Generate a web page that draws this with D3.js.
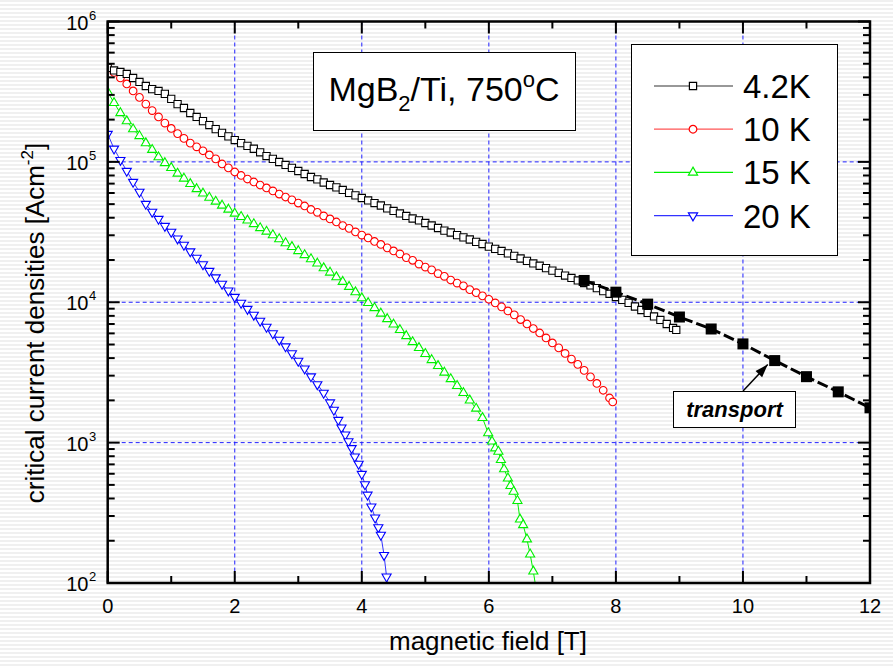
<!DOCTYPE html>
<html>
<head>
<meta charset="utf-8">
<script src="https://cdn.jsdelivr.net/npm/d3@7"></script>
<style>
  body { margin: 0; background: #fff; }
  svg { display: block; font-family: "Liberation Sans", Arial, Helvetica, sans-serif; }
</style>
</head>
<body>
<svg id="chart" width="893" height="666"></svg>
<script>
// Critical current density Jc [A/cm^2] versus applied field B [T], MgB2/Ti wire annealed at 750 °C
// Each series: [field (T), Jc (A/cm^2)]
const jc42K = [[0.0,4.67e5],[0.1,4.48e5],[0.2,4.37e5],[0.3,4.23e5],[0.4,3.96e5],[0.5,3.71e5],[0.6,3.47e5],[0.7,3.30e5],[0.8,3.20e5],[0.9,3.05e5],
  [1.0,2.81e5],[1.1,2.58e5],[1.2,2.42e5],[1.3,2.23e5],[1.4,2.09e5],[1.5,1.95e5],[1.6,1.83e5],[1.7,1.71e5],[1.8,1.61e5],[1.9,1.52e5],
  [2.0,1.43e5],[2.1,1.36e5],[2.2,1.30e5],[2.3,1.24e5],[2.4,1.17e5],[2.5,1.10e5],[2.6,1.05e5],[2.7,9.98e4],[2.8,9.51e4],[2.9,9.06e4],
  [3.0,8.61e4],[3.1,8.20e4],[3.2,7.80e4],[3.3,7.50e4],[3.4,7.13e4],[3.5,6.84e4],[3.6,6.58e4],[3.7,6.31e4],[3.8,6.01e4],[3.9,5.77e4],
  [4.0,5.53e4],[4.1,5.31e4],[4.2,5.09e4],[4.3,4.89e4],[4.4,4.66e4],[4.5,4.47e4],[4.6,4.29e4],[4.7,4.12e4],[4.8,3.95e4],[4.9,3.83e4],
  [5.0,3.67e4],[5.1,3.52e4],[5.2,3.38e4],[5.3,3.24e4],[5.4,3.14e4],[5.5,3.01e4],[5.6,2.90e4],[5.7,2.80e4],[5.8,2.69e4],[5.9,2.60e4],
  [6.0,2.49e4],[6.1,2.40e4],[6.2,2.32e4],[6.3,2.23e4],[6.4,2.14e4],[6.5,2.05e4],[6.6,1.97e4],[6.7,1.89e4],[6.8,1.82e4],[6.9,1.75e4],
  [7.0,1.68e4],[7.1,1.62e4],[7.2,1.55e4],[7.3,1.49e4],[7.4,1.43e4],[7.5,1.37e4],[7.6,1.32e4],[7.7,1.26e4],[7.8,1.20e4],[7.9,1.15e4],
  [8.0,1.09e4],[8.1,1.04e4],[8.2,9.89e3],[8.3,9.33e3],[8.4,8.81e3],[8.5,8.39e3],[8.6,7.92e3],[8.7,7.48e3],[8.8,7.00e3],[8.9,6.56e3],[8.95,6.35e3]];

const jc10K = [[0.0,4.74e5],[0.1,4.34e5],[0.2,3.96e5],[0.3,3.59e5],[0.4,3.20e5],[0.5,2.88e5],[0.6,2.58e5],[0.7,2.32e5],[0.8,2.09e5],[0.9,1.89e5],
  [1.0,1.73e5],[1.1,1.59e5],[1.2,1.47e5],[1.3,1.36e5],[1.4,1.28e5],[1.5,1.20e5],[1.6,1.12e5],[1.7,1.05e5],[1.8,9.66e4],[1.9,9.06e4],
  [2.0,8.47e4],[2.1,8.00e4],[2.2,7.55e4],[2.3,7.19e4],[2.4,6.84e4],[2.5,6.52e4],[2.6,6.21e4],[2.7,5.90e4],[2.8,5.62e4],[2.9,5.36e4],
  [3.0,5.09e4],[3.1,4.85e4],[3.2,4.58e4],[3.3,4.37e4],[3.4,4.12e4],[3.5,3.92e4],[3.6,3.73e4],[3.7,3.52e4],[3.8,3.36e4],[3.9,3.17e4],
  [4.0,3.01e4],[4.1,2.87e4],[4.2,2.71e4],[4.3,2.58e4],[4.4,2.44e4],[4.5,2.32e4],[4.6,2.21e4],[4.7,2.08e4],[4.8,1.99e4],[4.9,1.87e4],
  [5.0,1.78e4],[5.1,1.70e4],[5.2,1.60e4],[5.3,1.53e4],[5.4,1.44e4],[5.5,1.37e4],[5.6,1.31e4],[5.7,1.23e4],[5.8,1.17e4],[5.9,1.11e4],
  [6.0,1.05e4],[6.1,9.89e3],[6.2,9.27e3],[6.3,8.67e3],[6.4,8.13e3],[6.5,7.53e3],[6.6,7.00e3],[6.7,6.50e3],[6.8,6.04e3],[6.9,5.57e3],
  [7.0,5.13e3],[7.1,4.73e3],[7.2,4.32e3],[7.3,3.94e3],[7.4,3.61e3],[7.5,3.27e3],[7.6,2.94e3],[7.7,2.64e3],[7.8,2.36e3],[7.9,2.08e3],[7.95,1.95e3]];

const jc15K = [[0.0,3.15e5],[0.1,2.63e5],[0.2,2.23e5],[0.3,1.95e5],[0.4,1.71e5],[0.5,1.53e5],[0.6,1.36e5],[0.7,1.22e5],[0.8,1.08e5],[0.9,9.82e4],
  [1.0,9.06e4],[1.1,8.26e4],[1.2,7.62e4],[1.3,6.97e4],[1.4,6.41e4],[1.5,5.96e4],[1.6,5.57e4],[1.7,5.22e4],[1.8,4.89e4],[1.9,4.58e4],
  [2.0,4.29e4],[2.1,4.06e4],[2.2,3.83e4],[2.3,3.61e4],[2.4,3.38e4],[2.5,3.19e4],[2.6,3.01e4],[2.7,2.82e4],[2.8,2.64e4],[2.9,2.48e4],
  [3.0,2.32e4],[3.1,2.17e4],[3.2,2.03e4],[3.3,1.89e4],[3.4,1.75e4],[3.5,1.63e4],[3.6,1.51e4],[3.7,1.40e4],[3.8,1.29e4],[3.9,1.18e4],
  [4.0,1.07e4],[4.1,9.89e3],[4.2,9.10e3],[4.3,8.32e3],[4.4,7.60e3],[4.5,6.95e3],[4.6,6.35e3],[4.7,5.75e3],[4.8,5.21e3],[4.9,4.73e3],
  [5.0,4.29e3],[5.1,3.88e3],[5.2,3.52e3],[5.3,3.16e3],[5.4,2.84e3],[5.5,2.54e3],[5.6,2.26e3],[5.7,2.00e3],[5.8,1.75e3],[5.9,1.50e3],
  [5.99,1.17e3],[6.05,1.02e3],[6.10,912],[6.15,863],[6.19,753],[6.24,647],[6.30,557],[6.34,492],[6.39,448],[6.45,385],
  [6.49,284],[6.54,259],[6.60,205],[6.65,160],[6.70,121],[6.77,76]];

const jc20K = [[0.0,1.58e5],[0.1,1.24e5],[0.2,1.03e5],[0.3,8.61e4],[0.4,7.19e4],[0.5,6.11e4],[0.6,5.01e4],[0.7,4.40e4],[0.8,3.92e4],[0.9,3.49e4],
  [1.0,3.17e4],[1.1,2.84e4],[1.2,2.56e4],[1.3,2.30e4],[1.4,2.07e4],[1.5,1.86e4],[1.6,1.67e4],[1.7,1.50e4],[1.8,1.35e4],[1.9,1.21e4],
  [2.0,1.09e4],[2.1,9.89e3],[2.2,8.95e3],[2.3,8.13e3],[2.4,7.36e3],[2.5,6.67e3],[2.6,6.00e3],[2.7,5.40e3],[2.8,4.84e3],[2.9,4.32e3],
  [3.0,3.82e3],[3.1,3.37e3],[3.2,2.96e3],[3.3,2.60e3],[3.4,2.26e3],[3.5,1.93e3],[3.56,1.71e3],
  [3.63,1.45e3],[3.68,1.28e3],[3.74,1.14e3],[3.79,1.02e3],[3.84,912],[3.89,794],[3.95,705],[4.00,598],[4.05,504],[4.09,425],
  [4.15,350],[4.21,292],[4.26,249],[4.30,220],[4.35,158],[4.39,111],[4.43,76]];

// Transport measurement at 4.2 K
const transportField = [7.5, 8, 8.5, 9, 9.5, 10, 10.5, 11, 11.5, 12];
const transportJc = [1.43e4, 1.18e4, 9.70e3, 7.85e3, 6.45e3, 5.05e3, 3.84e3, 2.95e3, 2.30e3, 1.77e3];

const seriesLabels = ["4.2K", "10 K", "15 K", "20 K"];
const xMajorTicks = [0, 2, 4, 6, 8, 10, 12];
const xMinorTicks = [1, 3, 5, 7, 9, 11];
const yDecadeExponents = [2, 3, 4, 5, 6];
const xGridValues = [2, 4, 6, 8, 10];
const yGridValues = [1e3, 1e4, 1e5];

const svg = d3.select("#chart");
const W = 893, H = 666;
const L = 107.7, R = 870, T = 21.5, B = 583;

const x = d3.scaleLinear().domain([0, 12]).range([L, R]);
const y = d3.scaleLog().domain([1e2, 1e6]).range([B, T]);

const defs = svg.append("defs");
// faint horizontal banding of the page background
const pat = defs.append("pattern").attr("id", "bands").attr("patternUnits", "userSpaceOnUse")
  .attr("width", 8).attr("height", 4);
pat.append("rect").attr("width", 8).attr("height", 4).attr("fill", "#ffffff");
pat.append("rect").attr("width", 8).attr("height", 2).attr("fill", "#f0f0f0");
defs.append("clipPath").attr("id", "plotClip").append("rect")
  .attr("x", L).attr("y", T).attr("width", R - L).attr("height", B - T);

svg.append("rect").attr("width", W).attr("height", H).attr("fill", "url(#bands)");

// dashed grid
const grid = svg.append("g").attr("stroke", "#1f1fff").attr("stroke-width", 1).attr("stroke-dasharray", "4,3");
grid.selectAll("line.gx").data(xGridValues).join("line").attr("class", "gx")
  .attr("x1", d => x(d)).attr("x2", d => x(d)).attr("y1", T).attr("y2", B);
grid.selectAll("line.gy").data(yGridValues).join("line").attr("class", "gy")
  .attr("x1", L).attr("x2", R).attr("y1", d => y(d)).attr("y2", d => y(d));

// magnetization series
const styles = [
  { data: jc42K, color: "#000000", lineColor: "#333333", symbol: d3.symbolSquare, size: 52, rot: 0 },
  { data: jc10K, color: "#ff0000", lineColor: "#ff5555", symbol: d3.symbolCircle, size: 46, rot: 0 },
  { data: jc15K, color: "#00f000", lineColor: "#00f000", symbol: d3.symbolTriangle, size: 36, rot: 0 },
  { data: jc20K, color: "#0000ff", lineColor: "#3333ff", symbol: d3.symbolTriangle, size: 36, rot: 180 }
];
const plot = svg.append("g").attr("clip-path", "url(#plotClip)");
const line = d3.line().x(d => x(d[0])).y(d => y(d[1]));

styles.slice().reverse().forEach(s => {
  const g = plot.append("g");
  g.append("path").datum(s.data).attr("d", line)
    .attr("fill", "none").attr("stroke", s.lineColor).attr("stroke-width", 1);
  g.selectAll("path.m").data(s.data).join("path").attr("class", "m")
    .attr("d", d3.symbol(s.symbol, s.size))
    .attr("transform", d => `translate(${x(d[0])},${y(d[1])}) rotate(${s.rot})`)
    .attr("fill", "#fff").attr("stroke", s.color).attr("stroke-width", 1.1);
});

// transport points
const transport = transportField.map((f, i) => [f, transportJc[i]]);
plot.append("path").datum(transport).attr("d", line)
  .attr("fill", "none").attr("stroke", "#000").attr("stroke-width", 3).attr("stroke-dasharray", "11,4");
plot.selectAll("rect.tp").data(transport).join("rect").attr("class", "tp")
  .attr("x", d => x(d[0]) - 5.5).attr("y", d => y(d[1]) - 5.5)
  .attr("width", 11).attr("height", 11).attr("fill", "#000");

// frame and ticks
const axes = svg.append("g").attr("stroke", "#000");
axes.append("rect").attr("x", L).attr("y", T).attr("width", R - L).attr("height", B - T)
  .attr("fill", "none").attr("stroke-width", 2.5);
const majorLen = 12, minorLen = 7;
const xt = axes.append("g").attr("stroke-width", 2);
xMajorTicks.forEach(v => {
  xt.append("line").attr("x1", x(v)).attr("x2", x(v)).attr("y1", B).attr("y2", B - majorLen);
  xt.append("line").attr("x1", x(v)).attr("x2", x(v)).attr("y1", T).attr("y2", T + majorLen);
});
xMinorTicks.forEach(v => {
  xt.append("line").attr("x1", x(v)).attr("x2", x(v)).attr("y1", B).attr("y2", B - minorLen);
  xt.append("line").attr("x1", x(v)).attr("x2", x(v)).attr("y1", T).attr("y2", T + minorLen);
});
const yt = axes.append("g").attr("stroke-width", 2);
yDecadeExponents.forEach(e => {
  const v = Math.pow(10, e);
  yt.append("line").attr("x1", L).attr("x2", L + majorLen).attr("y1", y(v)).attr("y2", y(v));
  yt.append("line").attr("x1", R).attr("x2", R - majorLen).attr("y1", y(v)).attr("y2", y(v));
  if (e < 6) {
    for (let m = 2; m <= 9; m++) {
      const mv = m * v;
      yt.append("line").attr("x1", L).attr("x2", L + minorLen).attr("y1", y(mv)).attr("y2", y(mv));
      yt.append("line").attr("x1", R).attr("x2", R - minorLen).attr("y1", y(mv)).attr("y2", y(mv));
    }
  }
});

// tick labels
const lbl = svg.append("g").attr("fill", "#000");
xMajorTicks.forEach(v => {
  lbl.append("text").attr("x", x(v)).attr("y", 613).attr("text-anchor", "middle")
    .attr("font-size", 20).text(v);
});
yDecadeExponents.forEach(e => {
  const yy = y(Math.pow(10, e));
  lbl.append("text").attr("x", 88.5).attr("y", yy + 8).attr("text-anchor", "end")
    .attr("font-size", 20).text("10");
  lbl.append("text").attr("x", 89).attr("y", yy - 2).attr("text-anchor", "start")
    .attr("font-size", 13).text(e);
});

// axis titles
svg.append("text").attr("x", 488).attr("y", 650).attr("text-anchor", "middle")
  .attr("font-size", 26).text("magnetic field [T]");
const yTitle = svg.append("text").attr("transform", "translate(44,323) rotate(-90)")
  .attr("text-anchor", "middle").attr("font-size", 26);
yTitle.append("tspan").text("critical current densities [Acm");
yTitle.append("tspan").attr("font-size", 17).attr("dy", -11).text("-2");
yTitle.append("tspan").attr("dy", 11).text("]");

// sample label box
svg.append("rect").attr("x", 313.5).attr("y", 52.5).attr("width", 262).attr("height", 78)
  .attr("fill", "#fff").attr("stroke", "#000").attr("stroke-width", 1);
const title = svg.append("text").attr("x", 444).attr("y", 101).attr("text-anchor", "middle").attr("font-size", 34);
title.append("tspan").text("MgB");
title.append("tspan").attr("font-size", 22).attr("dy", 10).text("2");
title.append("tspan").attr("dy", -10).text("/Ti, 750");
title.append("tspan").attr("font-size", 22).attr("dy", -14).text("o");
title.append("tspan").attr("dy", 14).text("C");

// legend
svg.append("rect").attr("x", 631.5).attr("y", 44.5).attr("width", 206).attr("height", 211)
  .attr("fill", "#fff").attr("stroke", "#000").attr("stroke-width", 1);
styles.forEach((s, i) => {
  const ly = 86 + i * 43.2;
  svg.append("line").attr("x1", 654).attr("x2", 733).attr("y1", ly).attr("y2", ly)
    .attr("stroke", s.lineColor).attr("stroke-width", 1.2);
  svg.append("path").attr("d", d3.symbol(s.symbol, s.size))
    .attr("transform", `translate(693,${ly}) rotate(${s.rot})`)
    .attr("fill", "#fff").attr("stroke", s.color).attr("stroke-width", 1.2);
  svg.append("text").attr("x", 743).attr("y", ly + 12).attr("font-size", 33).text(seriesLabels[i]);
});

// transport annotation with arrow to the 10.5 T point
const target = [x(transportField[6]) - 7, y(transportJc[6]) + 4];
const start = [743, 391];
svg.append("line").attr("x1", start[0]).attr("y1", start[1]).attr("x2", target[0]).attr("y2", target[1])
  .attr("stroke", "#000").attr("stroke-width", 1.5);
const ang = Math.atan2(target[1] - start[1], target[0] - start[0]);
const hl = 13, hw = 4.5;
const bx = target[0] - hl * Math.cos(ang), by = target[1] - hl * Math.sin(ang);
svg.append("polygon").attr("points", [
  [target[0], target[1]],
  [bx + hw * Math.sin(ang), by - hw * Math.cos(ang)],
  [bx - hw * Math.sin(ang), by + hw * Math.cos(ang)]
].map(p => p.join(",")).join(" ")).attr("fill", "#000");
svg.append("rect").attr("x", 673.5).attr("y", 391.5).attr("width", 122).attr("height", 36)
  .attr("fill", "#fff").attr("stroke", "#000").attr("stroke-width", 1);
svg.append("text").attr("x", 734.5).attr("y", 417).attr("text-anchor", "middle")
  .attr("font-size", 22).attr("font-weight", "bold").attr("font-style", "italic").text("transport");
</script>
</body>
</html>
